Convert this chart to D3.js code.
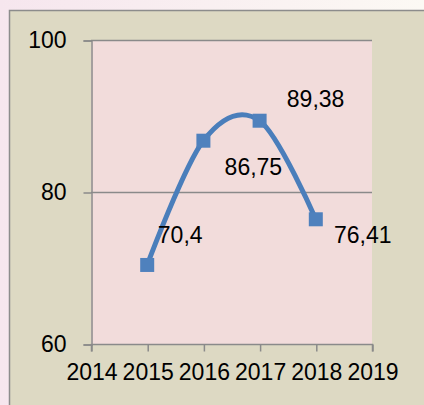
<!DOCTYPE html>
<html>
<head>
<meta charset="utf-8">
<script src="https://cdn.jsdelivr.net/npm/d3@7"></script>
<style>
  html, body { margin: 0; padding: 0; background: #fcf9f6; }
  svg { display: block; }
  text { font-family: "Liberation Sans", Arial, sans-serif; fill: #000; }
</style>
</head>
<body>
<div id="chart"></div>
<script>
var years = [2015, 2016, 2017, 2018];
var values = [70.4, 86.75, 89.38, 76.41];
var labels = ['70,4', '86,75', '89,38', '76,41'];
var xTicks = [2014, 2015, 2016, 2017, 2018, 2019];
var yTicks = [60, 80, 100];

// Excel put the data labels in odd places, so nudge each one by hand
var labelDx = [33, 50, 56, 47];
var labelDy = [-22, 34, -14, 24];

var width = 424, height = 405;
var plot = { left: 91, top: 40, right: 372, bottom: 344 };

var svg = d3.select('#chart')
    .append('svg')
    .attr('width', width)
    .attr('height', height);

// slide backdrop, left strip is a bit pink
var grad = svg.append('defs').append('linearGradient')
    .attr('id', 'edge')
    .attr('x1', 0).attr('x2', 1);
grad.append('stop').attr('offset', 0).attr('stop-color', '#f6e6ee');
grad.append('stop').attr('offset', 1).attr('stop-color', '#fcf9f4');
svg.append('rect')
    .attr('width', width)
    .attr('height', height)
    .attr('fill', 'url(#edge)');

// chart frame
svg.append('rect')
    .attr('x', 9.5)
    .attr('y', 10.5)
    .attr('width', width)
    .attr('height', height)
    .attr('fill', '#ddd9c3')
    .attr('stroke', '#8c8c8c')
    .attr('stroke-width', 1.5);

var x = d3.scaleLinear()
    .domain([2014, 2019])
    .range([plot.left, plot.right]);

var y = d3.scaleLinear()
    .domain([60, 100])
    .range([plot.bottom, plot.top]);

svg.append('rect')
    .attr('x', plot.left)
    .attr('y', plot.top)
    .attr('width', plot.right - plot.left)
    .attr('height', plot.bottom - plot.top)
    .attr('fill', '#f2dcdb');

// gridlines
svg.append('g')
    .selectAll('line')
    .data(yTicks.filter(function(d) { return d > 60; }))
    .enter()
    .append('line')
    .attr('x1', plot.left)
    .attr('x2', plot.right)
    .attr('y1', function(d) { return Math.round(y(d)) + 0.5; })
    .attr('y2', function(d) { return Math.round(y(d)) + 0.5; })
    .attr('stroke', '#8a8a8a')
    .attr('stroke-width', 1.3);

// y axis
var yAxis = d3.axisLeft(y)
    .tickValues(yTicks)
    .tickSize(8)
    .tickPadding(17)
    .tickFormat(d3.format('d'));

var gy = svg.append('g')
    .attr('transform', 'translate(' + (plot.left + 0.5) + ',0.5)')
    .call(yAxis);

// x axis
var xAxis = d3.axisBottom(x)
    .tickValues(xTicks)
    .tickSize(7)
    .tickPadding(12)
    .tickFormat(d3.format('d'));

var gx = svg.append('g')
    .attr('transform', 'translate(0.5,' + (plot.bottom + 0.5) + ')')
    .call(xAxis);

[gx, gy].forEach(function(g) {
    g.select('.domain').attr('stroke', '#8a8a8a').attr('stroke-width', 1.5);
    g.selectAll('.tick line').attr('stroke', '#8a8a8a').attr('stroke-width', 1.5);
    g.selectAll('.tick text')
        .attr('fill', '#000')
        .style('font-size', '23px')
        .style('font-family', '"Liberation Sans", Arial, sans-serif');
});
gx.select('.domain').attr('d', 'M' + plot.left + ',7V0H' + plot.right + 'V7');

var points = years.map(function(d, i) { return { year: d, value: values[i], label: labels[i] }; });

var line = d3.line()
    .x(function(d) { return x(d.year); })
    .y(function(d) { return y(d.value); })
    .curve(d3.curveCardinal);

svg.append('path')
    .datum(points)
    .attr('d', line)
    .attr('fill', 'none')
    .attr('stroke', '#4a7ebb')
    .attr('stroke-width', 5)
    .attr('stroke-linecap', 'round');

svg.append('g')
    .selectAll('rect')
    .data(points)
    .enter()
    .append('rect')
    .attr('x', function(d) { return x(d.year) - 7; })
    .attr('y', function(d) { return y(d.value) - 7; })
    .attr('width', 14)
    .attr('height', 14)
    .attr('fill', '#4f81bd');

svg.append('g')
    .selectAll('text')
    .data(points)
    .enter()
    .append('text')
    .attr('x', function(d, i) { return x(d.year) + labelDx[i]; })
    .attr('y', function(d, i) { return y(d.value) + labelDy[i]; })
    .attr('text-anchor', 'middle')
    .style('font-size', '23px')
    .text(function(d) { return d.label; });
</script>
</body>
</html>
